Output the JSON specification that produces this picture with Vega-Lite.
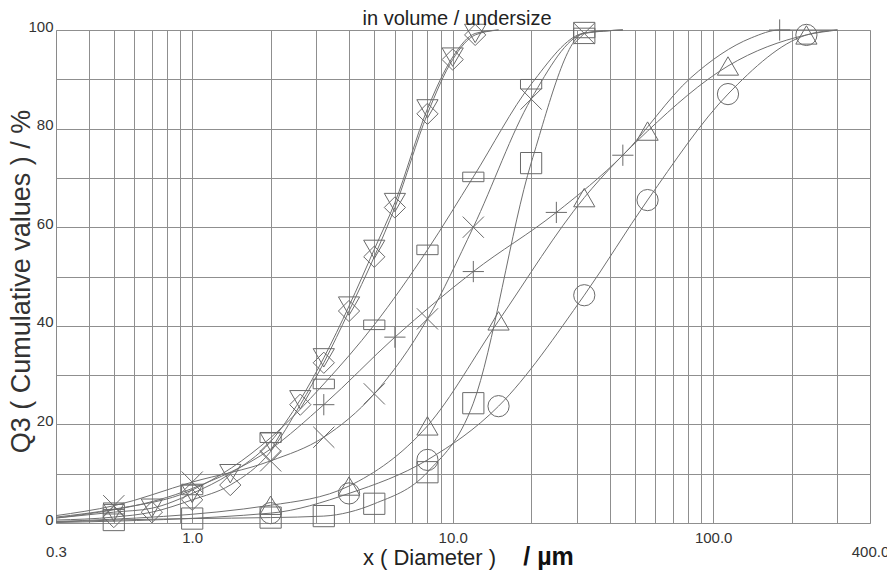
{
  "$schema": "https://vega.github.io/schema/vega-lite/v6.json",
  "width": 814,
  "height": 493,
  "autosize": "none",
  "padding": {"left": 56, "top": 30, "right": 17, "bottom": 48},
  "background": "white",
  "config": {"font": "Liberation Sans", "view": {"stroke": "#8a8a8a", "strokeWidth": 1}},
  "title": {"text": "in volume / undersize", "fontSize": 20, "fontWeight": "normal", "color": "#222222", "anchor": "middle", "frame": "group", "offset": 5, "baseline": "alphabetic", "dx": -6, "dy": 33},
  "data": {"values": [
    {"s": "TD", "x": 0.3, "y": 1.0, "m": 0},
    {"s": "TD", "x": 0.5, "y": 2.2, "m": 1},
    {"s": "TD", "x": 0.7, "y": 3.0, "m": 1},
    {"s": "TD", "x": 1.0, "y": 6.0, "m": 1},
    {"s": "TD", "x": 1.4, "y": 10.0, "m": 1},
    {"s": "TD", "x": 2.0, "y": 16.5, "m": 1},
    {"s": "TD", "x": 2.6, "y": 25.0, "m": 1},
    {"s": "TD", "x": 3.2, "y": 33.5, "m": 1},
    {"s": "TD", "x": 4.0, "y": 44.0, "m": 1},
    {"s": "TD", "x": 5.0, "y": 55.5, "m": 1},
    {"s": "TD", "x": 6.0, "y": 65.0, "m": 1},
    {"s": "TD", "x": 8.0, "y": 84.0, "m": 1},
    {"s": "TD", "x": 10.0, "y": 94.5, "m": 1},
    {"s": "TD", "x": 12.2, "y": 99.3, "m": 1},
    {"s": "TD", "x": 15.0, "y": 100.0, "m": 0},

    {"s": "DM", "x": 0.3, "y": 0.6, "m": 0},
    {"s": "DM", "x": 0.5, "y": 1.2, "m": 1},
    {"s": "DM", "x": 0.7, "y": 2.2, "m": 1},
    {"s": "DM", "x": 1.0, "y": 4.7, "m": 1},
    {"s": "DM", "x": 1.4, "y": 7.7, "m": 1},
    {"s": "DM", "x": 2.0, "y": 14.5, "m": 1},
    {"s": "DM", "x": 2.6, "y": 24.0, "m": 1},
    {"s": "DM", "x": 3.2, "y": 32.5, "m": 1},
    {"s": "DM", "x": 4.0, "y": 43.0, "m": 1},
    {"s": "DM", "x": 5.0, "y": 54.0, "m": 1},
    {"s": "DM", "x": 6.0, "y": 64.0, "m": 1},
    {"s": "DM", "x": 8.0, "y": 83.0, "m": 1},
    {"s": "DM", "x": 10.0, "y": 94.0, "m": 1},
    {"s": "DM", "x": 12.2, "y": 99.0, "m": 1},
    {"s": "DM", "x": 15.0, "y": 100.0, "m": 0},

    {"s": "RC", "x": 0.3, "y": 1.2, "m": 0},
    {"s": "RC", "x": 0.5, "y": 2.8, "m": 1},
    {"s": "RC", "x": 1.0, "y": 6.7, "m": 1},
    {"s": "RC", "x": 2.0, "y": 17.3, "m": 1},
    {"s": "RC", "x": 3.2, "y": 28.2, "m": 1},
    {"s": "RC", "x": 5.0, "y": 40.2, "m": 1},
    {"s": "RC", "x": 8.0, "y": 55.4, "m": 1},
    {"s": "RC", "x": 12.0, "y": 70.2, "m": 1},
    {"s": "RC", "x": 20.0, "y": 89.0, "m": 1},
    {"s": "RC", "x": 32.0, "y": 99.4, "m": 1},
    {"s": "RC", "x": 45.0, "y": 100.0, "m": 0},

    {"s": "CX", "x": 0.3, "y": 1.5, "m": 0},
    {"s": "CX", "x": 0.5, "y": 3.5, "m": 1},
    {"s": "CX", "x": 1.0, "y": 8.3, "m": 1},
    {"s": "CX", "x": 2.0, "y": 12.6, "m": 1},
    {"s": "CX", "x": 3.2, "y": 17.4, "m": 1},
    {"s": "CX", "x": 5.0, "y": 26.2, "m": 1},
    {"s": "CX", "x": 8.0, "y": 41.4, "m": 1},
    {"s": "CX", "x": 12.0, "y": 60.0, "m": 1},
    {"s": "CX", "x": 20.0, "y": 86.0, "m": 1},
    {"s": "CX", "x": 32.0, "y": 99.3, "m": 1},
    {"s": "CX", "x": 45.0, "y": 100.0, "m": 0},

    {"s": "SQ", "x": 0.3, "y": 0.2, "m": 0},
    {"s": "SQ", "x": 0.5, "y": 0.6, "m": 1},
    {"s": "SQ", "x": 1.0, "y": 0.9, "m": 1},
    {"s": "SQ", "x": 2.0, "y": 1.1, "m": 1},
    {"s": "SQ", "x": 3.2, "y": 1.4, "m": 1},
    {"s": "SQ", "x": 5.0, "y": 3.9, "m": 1},
    {"s": "SQ", "x": 8.0, "y": 10.3, "m": 1},
    {"s": "SQ", "x": 12.0, "y": 24.3, "m": 1},
    {"s": "SQ", "x": 20.0, "y": 73.0, "m": 1},
    {"s": "SQ", "x": 32.0, "y": 99.4, "m": 1},
    {"s": "SQ", "x": 45.0, "y": 100.0, "m": 0},

    {"s": "TU", "x": 0.3, "y": 0.3, "m": 0},
    {"s": "TU", "x": 2.0, "y": 3.6, "m": 1},
    {"s": "TU", "x": 4.0, "y": 7.5, "m": 1},
    {"s": "TU", "x": 8.0, "y": 19.7, "m": 1},
    {"s": "TU", "x": 15.0, "y": 41.0, "m": 1},
    {"s": "TU", "x": 32.0, "y": 66.0, "m": 1},
    {"s": "TU", "x": 56.0, "y": 79.5, "m": 1},
    {"s": "TU", "x": 114.0, "y": 92.7, "m": 1},
    {"s": "TU", "x": 228.0, "y": 99.0, "m": 1},
    {"s": "TU", "x": 300.0, "y": 100.0, "m": 0},

    {"s": "CI", "x": 0.3, "y": 0.1, "m": 0},
    {"s": "CI", "x": 2.0, "y": 2.0, "m": 1},
    {"s": "CI", "x": 4.0, "y": 6.0, "m": 1},
    {"s": "CI", "x": 8.0, "y": 12.8, "m": 1},
    {"s": "CI", "x": 15.0, "y": 23.7, "m": 1},
    {"s": "CI", "x": 32.0, "y": 46.2, "m": 1},
    {"s": "CI", "x": 56.0, "y": 65.5, "m": 1},
    {"s": "CI", "x": 114.0, "y": 87.0, "m": 1},
    {"s": "CI", "x": 228.0, "y": 99.0, "m": 1},
    {"s": "CI", "x": 300.0, "y": 100.0, "m": 0},

    {"s": "PL", "x": 0.3, "y": 1.0, "m": 0},
    {"s": "PL", "x": 1.0, "y": 7.0, "m": 0},
    {"s": "PL", "x": 2.0, "y": 15.0, "m": 0},
    {"s": "PL", "x": 3.2, "y": 24.0, "m": 1},
    {"s": "PL", "x": 6.0, "y": 37.7, "m": 1},
    {"s": "PL", "x": 12.0, "y": 51.0, "m": 1},
    {"s": "PL", "x": 25.0, "y": 63.0, "m": 1},
    {"s": "PL", "x": 45.0, "y": 74.6, "m": 1},
    {"s": "PL", "x": 82.0, "y": 90.3, "m": 0},
    {"s": "PL", "x": 140.0, "y": 98.4, "m": 0},
    {"s": "PL", "x": 180.0, "y": 100.0, "m": 1},
    {"s": "PL", "x": 300.0, "y": 100.0, "m": 0}
  ]},
  "layer": [
    {
      "mark": {"type": "line", "interpolate": "monotone", "strokeWidth": 1, "color": "#707070"},
      "encoding": {
        "x": {"field": "x", "type": "quantitative",
              "scale": {"type": "log", "domain": [0.3, 400], "nice": false},
              "axis": {"orient": "bottom", "values": [0.4, 0.5, 0.6, 0.7, 0.8, 0.9, 1, 2, 3, 4, 5, 6, 7, 8, 9, 10, 20, 30, 40, 50, 60, 70, 80, 90, 100, 200, 300],
                       "labels": false, "ticks": false, "domain": false, "grid": true, "gridColor": "#8f8f8f", "gridWidth": 1, "gridOpacity": 1, "title": null}},
        "y": {"field": "y", "type": "quantitative",
              "scale": {"domain": [0, 100], "nice": false},
              "axis": {"values": [0, 10, 20, 30, 40, 50, 60, 70, 80, 90, 100],
                       "labelExpr": "datum.value % 20 === 0 ? datum.label : ''",
                       "grid": true, "gridColor": "#8f8f8f", "gridWidth": 1, "gridOpacity": 1,
                       "ticks": false, "domain": false, "labelPadding": 3, "labelFontSize": 15, "labelColor": "#333333", "labelOffset": -4,
                       "title": "Q3 ( Cumulative values ) / %", "titleFontSize": 27, "titleFontWeight": "normal", "titleColor": "#333333",
                       "titleX": -35, "titleY": 251, "titleAngle": -90, "titleAlign": "center", "titleBaseline": "middle"}},
        "detail": {"field": "s", "type": "nominal"}
      }
    },
    {
      "transform": [{"filter": {"and": [{"field": "m", "equal": 1}, {"field": "s", "oneOf": ["TD", "DM", "RC", "CX"]}]}}],
      "mark": {"type": "point", "filled": false, "strokeWidth": 1, "color": "#6a6a6a", "size": 450, "opacity": 1},
      "encoding": {
        "x": {"field": "x", "type": "quantitative",
              "scale": {"type": "log", "domain": [0.3, 400], "nice": false},
              "axis": {"orient": "bottom", "values": [1, 10, 100], "format": ".1f", "grid": false, "ticks": false, "domain": false,
                       "labelPadding": 7, "labelFontSize": 15, "labelColor": "#333333", "labelBaseline": "top", "labelFlush": false,
                       "title": "x ( Diameter )", "titleFontSize": 22, "titleFontWeight": "normal", "titleColor": "#222222",
                       "titleX": 373, "titleY": 41, "titleAlign": "center", "titleBaseline": "alphabetic"}},
        "y": {"field": "y", "type": "quantitative", "scale": {"domain": [0, 100], "nice": false}, "axis": null},
        "shape": {"field": "s", "type": "nominal", "legend": null,
                  "scale": {"domain": ["TD", "DM", "RC", "CX", "SQ", "TU", "CI", "PL"],
                            "range": ["triangle-down", "diamond", "M-1,-0.45L1,-0.45L1,0.45L-1,0.45Z", "M-1,-1L1,1M-1,1L1,-1", "square", "triangle-up", "circle", "M-1,0L1,0M0,-1L0,1"]}}
      }
    },
    {
      "transform": [{"filter": {"and": [{"field": "m", "equal": 1}, {"field": "s", "oneOf": ["SQ", "TU", "CI", "PL"]}]}}],
      "mark": {"type": "point", "filled": false, "strokeWidth": 1, "color": "#6a6a6a", "size": 450, "opacity": 1},
      "encoding": {
        "x": {"field": "x", "type": "quantitative",
              "scale": {"type": "log", "domain": [0.3, 400], "nice": false},
              "axis": {"orient": "bottom", "values": [0.3, 400], "format": ".1f", "grid": false, "ticks": false, "domain": false,
                       "labelPadding": 21, "labelFontSize": 15, "labelColor": "#333333", "labelBaseline": "top", "labelFlush": false, "labelBound": false,
                       "title": "/ µm", "titleFontSize": 25, "titleFontWeight": "bold", "titleColor": "#111111",
                       "titleX": 492, "titleY": 41, "titleAlign": "center", "titleBaseline": "alphabetic"}},
        "y": {"field": "y", "type": "quantitative", "scale": {"domain": [0, 100], "nice": false}, "axis": null},
        "shape": {"field": "s", "type": "nominal", "legend": null,
                  "scale": {"domain": ["TD", "DM", "RC", "CX", "SQ", "TU", "CI", "PL"],
                            "range": ["triangle-down", "diamond", "M-1,-0.45L1,-0.45L1,0.45L-1,0.45Z", "M-1,-1L1,1M-1,1L1,-1", "square", "triangle-up", "circle", "M-1,0L1,0M0,-1L0,1"]}}
      }
    }
  ],
  "resolve": {"axis": {"x": "independent", "y": "independent"}}
}
